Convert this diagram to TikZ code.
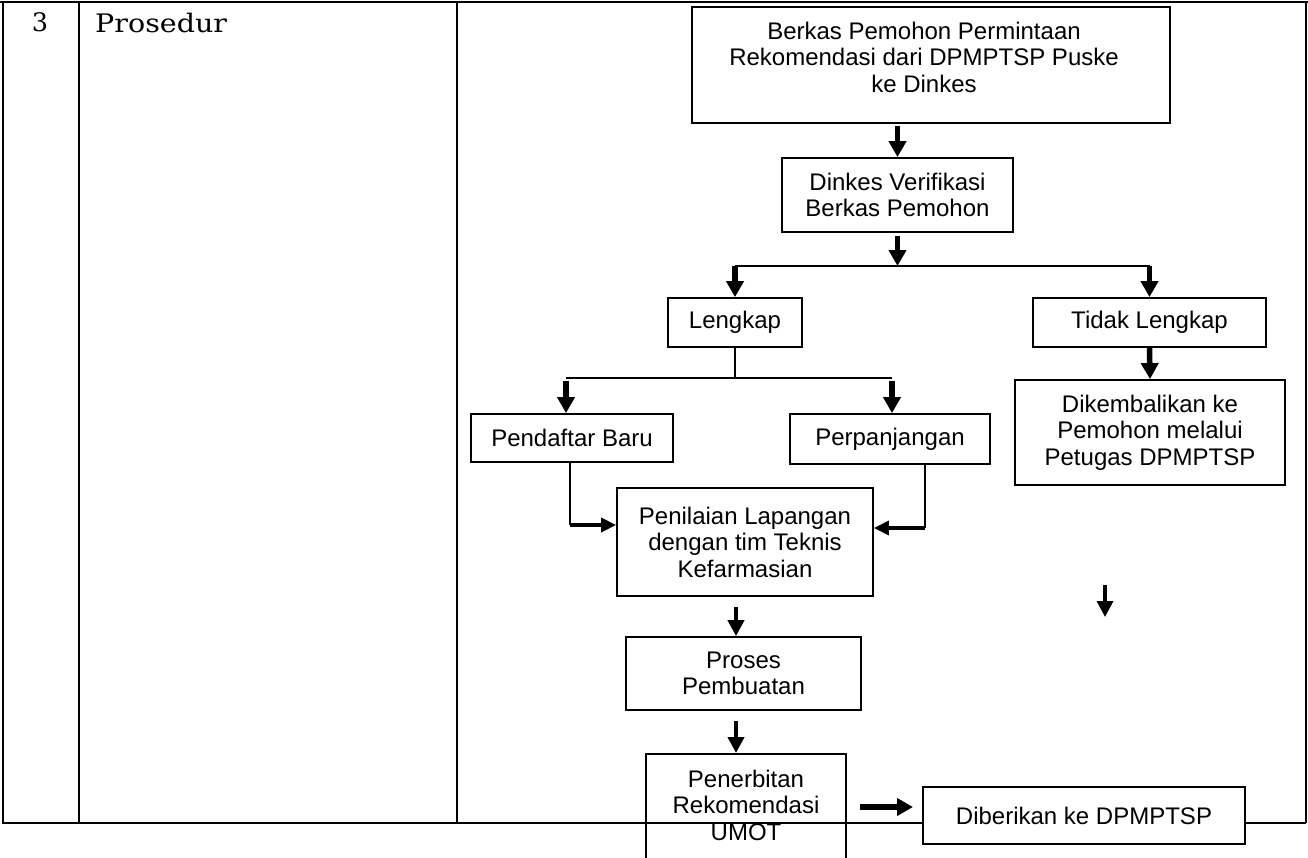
\documentclass[tikz,border=0pt]{standalone}
\usepackage{fontspec}
\setmainfont{Liberation Sans}
\newfontfamily\bookfont{DejaVu Serif}
\usepackage{graphicx}
\usetikzlibrary{arrows.meta,calc}
\newcommand{\flowfont}{\fontsize{24}{26.5}\selectfont}
\newcommand{\headfont}{\bookfont\fontsize{25.5}{28}\selectfont}
\begin{document}
\begin{tikzpicture}[x=1pt,y=-1pt,
  box/.style={draw, line width=1.8pt, fill=white, inner sep=0pt, align=center, font=\flowfont},
  txt/.style={inner sep=0pt, align=center, font=\flowfont},
  conn/.style={line width=2pt},
  tbl/.style={line width=2.8pt},
  tblthin/.style={line width=2pt},
  bigarrow/.style={line width=5.5pt, -{Triangle[width=17pt,length=16pt]}},
  midarrow/.style={line width=4.5pt, -{Triangle[width=16pt,length=16pt]}},
  sidearrow/.style={line width=3.5pt, -{Triangle[width=14pt,length=15pt]}}
]
\useasboundingbox (0,0) rectangle (1308,857);
\clip (0,0) rectangle (1308,857);

% table
\draw[tbl] (0,2) -- (1308,2);
\draw[tbl] (3,2) -- (3,823);
\draw[tbl] (1.5,823) -- (457,823);
\draw[tblthin] (457,823) -- (1306,823);
\draw[tbl] (79,2) -- (79,823);
\draw[tbl] (457,2) -- (457,823);
\draw[line width=2.4pt] (1306,2) -- (1306,823);

\node[font=\headfont, inner sep=0pt] (num) at (40,22.5) {3};
\node[font=\headfont, inner sep=0pt, anchor=base west] (proc) at (95,32) {\scalebox{1.12}[1]{Prosedur}};

% flow boxes
\node[box, minimum width=478, minimum height=116] (A) at (931,65) {};
\node[txt] (At) at (924,57) {Berkas Pemohon Permintaan\\Rekomendasi dari DPMPTSP Puske\\ke Dinkes};
\node[box, minimum width=231, minimum height=74] (B) at (897.5,195) {Dinkes Verifikasi\\Berkas Pemohon};
\coordinate (br1) at (897.5,266);
\node[box, minimum width=134, minimum height=49] (L) at (735,322.5) {Lengkap};
\node[box, minimum width=233, minimum height=49] (T) at (1149.5,322.5) {Tidak Lengkap};
\node[box, minimum width=270, minimum height=105] (D) at (1150,432.5) {Dikembalikan ke\\Pemohon melalui\\Petugas DPMPTSP};
\coordinate (br2) at (735,378);
\coordinate (bl) at (566,378);
\coordinate (brr) at (892,378);
\node[box, minimum width=202, minimum height=48] (Pb) at (572,438) {Pendaftar Baru};
\node[box, minimum width=200, minimum height=50] (Pp) at (890,439) {Perpanjangan};
\node[box, minimum width=256, minimum height=108] (Pn) at (745,542) {Penilaian Lapangan\\dengan tim Teknis\\Kefarmasian};
\node[box, minimum width=235, minimum height=73] (Pr) at (743.5,673.5) {Proses\\Pembuatan};
\node[box, fill=none, minimum width=200, minimum height=150, anchor=north] (Pe) at (746,753) {};
\node[txt] (Pet) at (746,805) {Penerbitan\\Rekomendasi\\UMOT};
\node[box, minimum width=322, minimum height=57] (Di) at (1084,815.5) {Diberikan ke DPMPTSP};

% connectors
\draw[bigarrow, shorten <=2pt] (A.south -| B.north) -- (B.north);
\draw[bigarrow, shorten <=3pt] (B.south) -- (br1);
\draw[conn] (L.north |- br1) -- (T.north |- br1);
\draw[bigarrow] (L.north |- br1) -- (L.north);
\draw[bigarrow] (T.north |- br1) -- (T.north);
\draw[bigarrow] (T.south) -- (D.north);
\draw[conn] (L.south) -- (br2);
\draw[conn] (bl) -- (brr);
\draw[bigarrow, shorten <=3pt] (bl) -- (bl |- Pb.north);
\draw[bigarrow, shorten <=3pt] (brr) -- (brr |- Pp.north);
\coordinate (cL) at (570,525);
\coordinate (cR) at (925,528);
\draw[conn] (cL |- Pb.south) -- (cL);
\draw[sidearrow] (cL) -- (cL -| Pn.west);
\draw[conn] (cR |- Pp.south) -- (cR);
\draw[sidearrow] (cR) -- (cR -| Pn.east);
\coordinate (ax) at (736,600);
\draw[midarrow, shorten <=10pt] (ax |- Pn.south) -- (ax |- Pr.north);
\draw[midarrow, shorten <=10pt] (ax |- Pr.south) -- (ax |- Pe.north);
\coordinate (h1) at (860,807);
\coordinate (h2) at (913,807);
\draw[bigarrow] (h1) -- (h2);
\coordinate (i1) at (1105,585);
\coordinate (i2) at (1105,617);
\draw[midarrow, line width=3.5pt] (i1) -- (i2);
\end{tikzpicture}
\end{document}
